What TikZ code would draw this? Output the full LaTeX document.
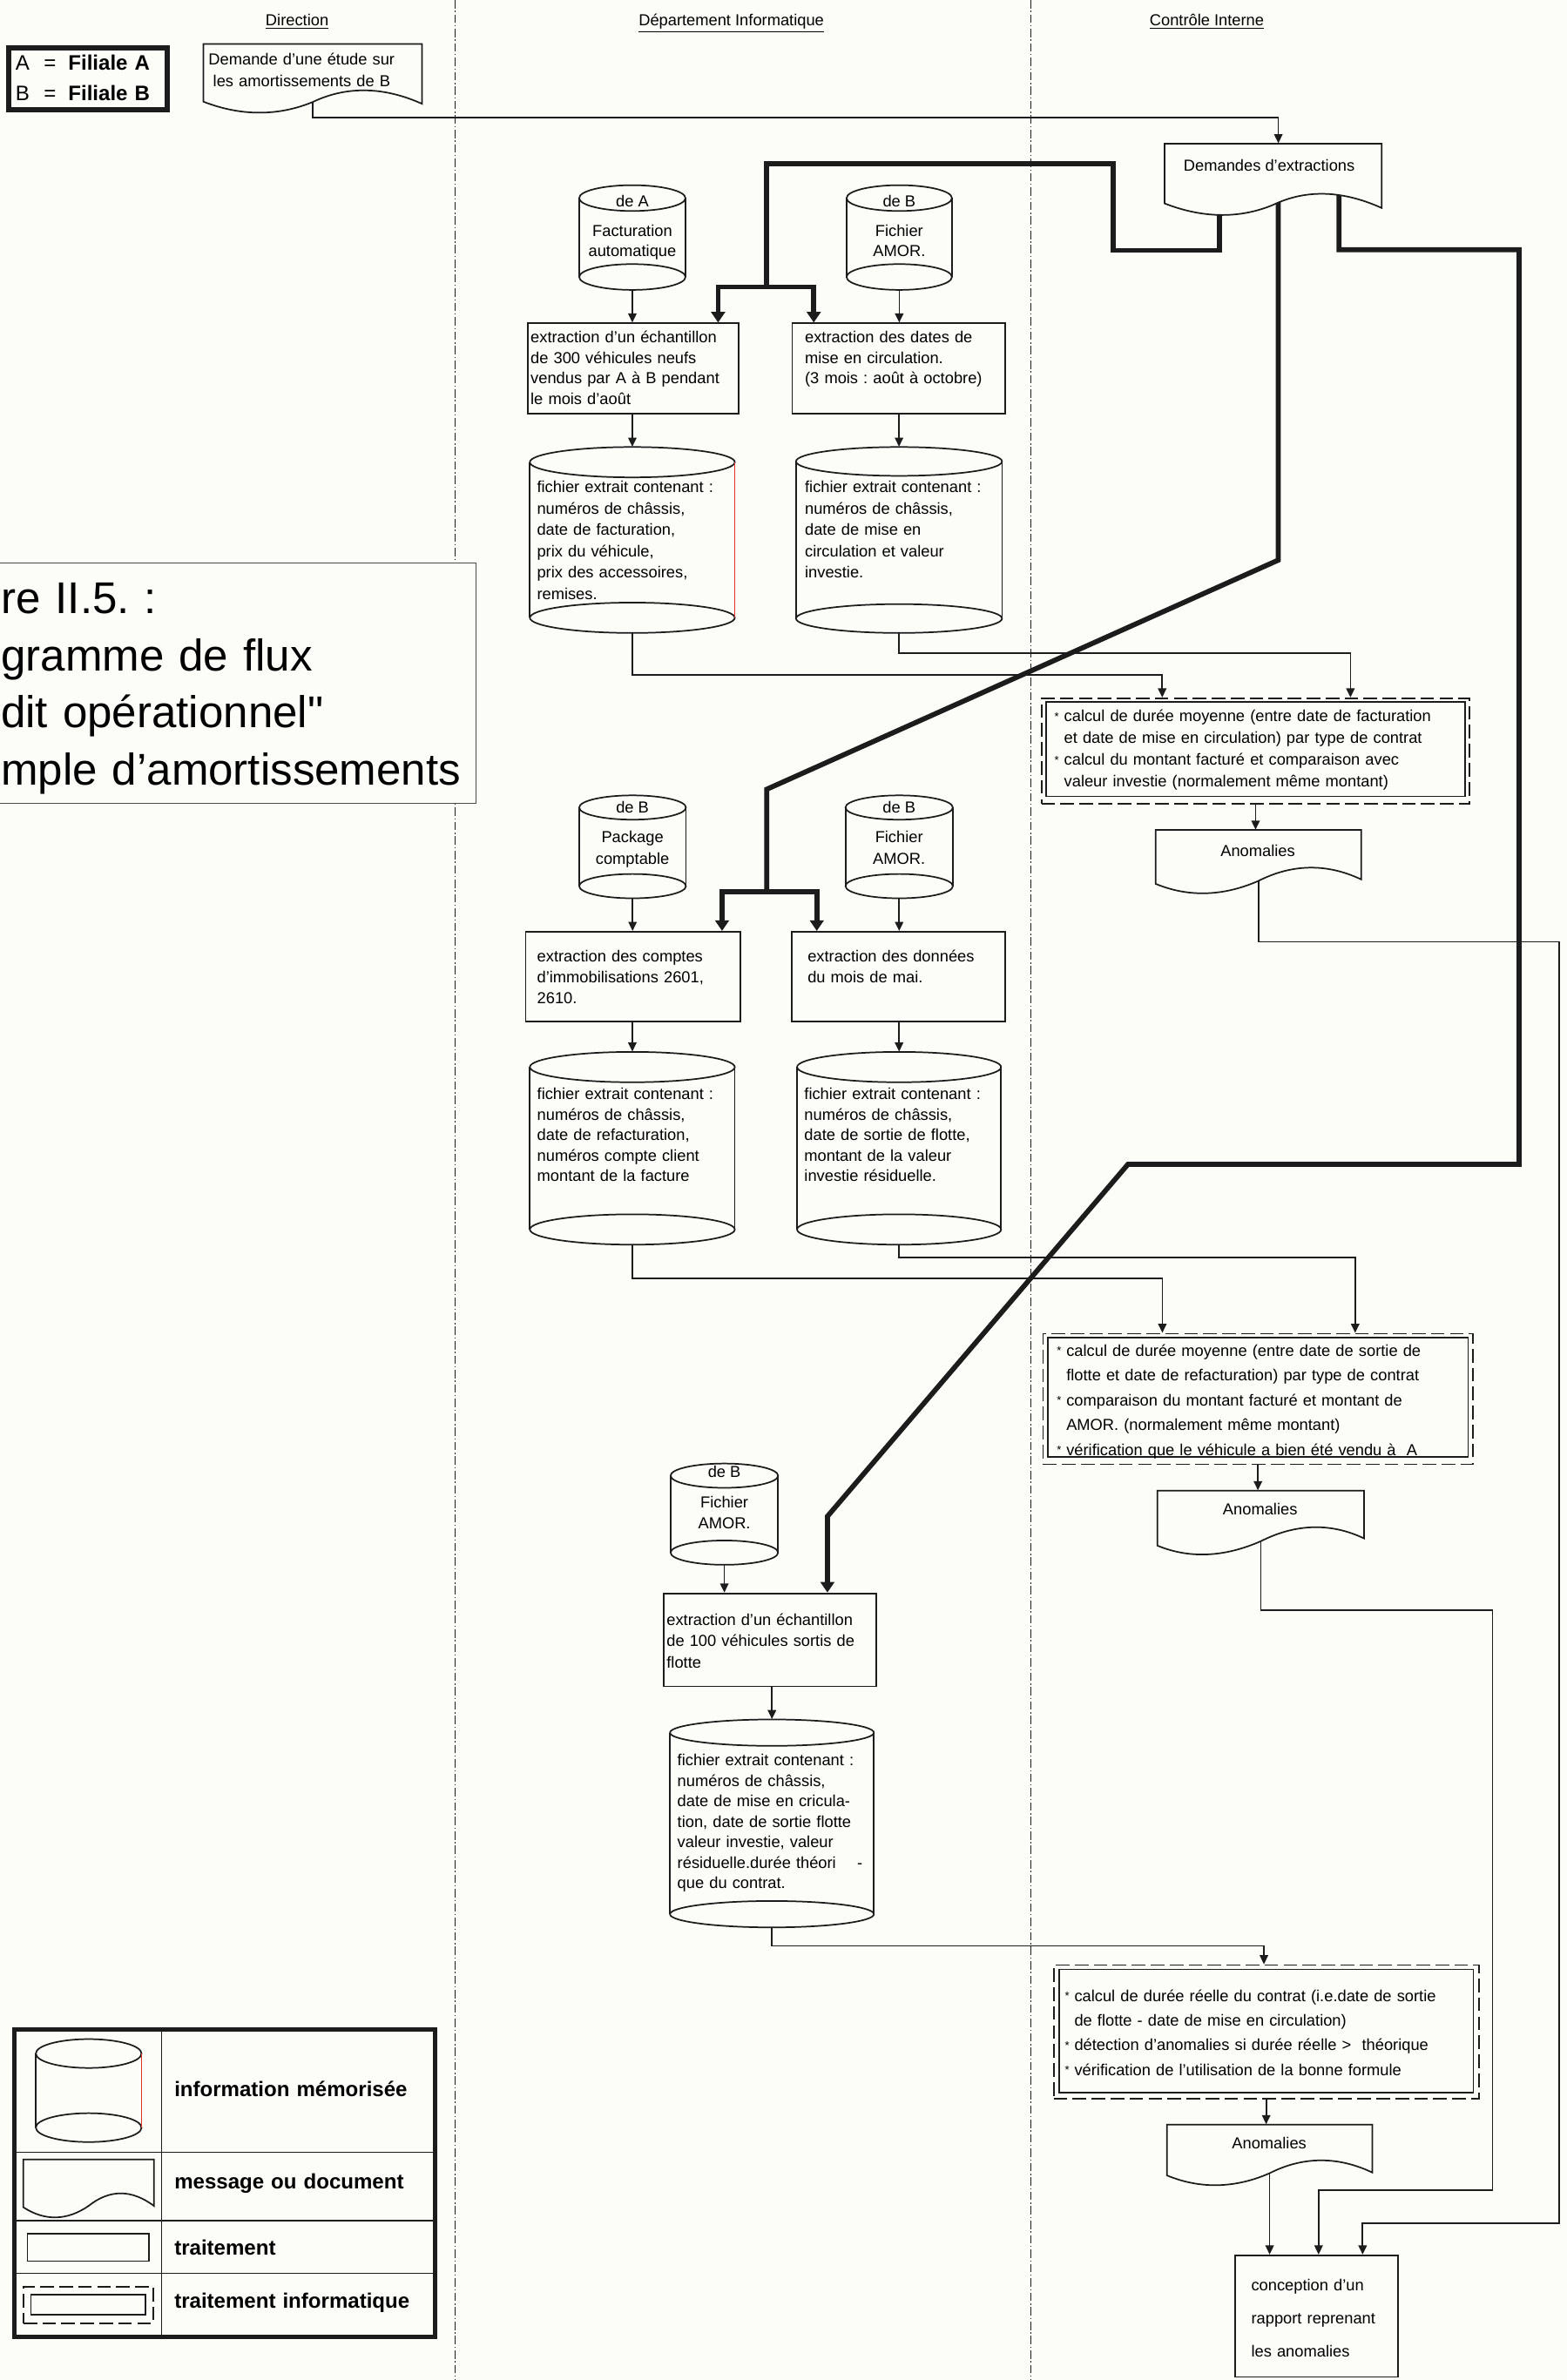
\documentclass[tikz,border=0pt]{standalone}
\usepackage{fontspec}
\setmainfont{Liberation Sans}
\newfontfamily\plainquote{Liberation Sans}[Ligatures=TeXOff]
\usetikzlibrary{arrows.meta,fit,calc}
\pgfdeclarelayer{back}
\pgfsetlayers{back,main}
\frenchspacing

\definecolor{paper}{RGB}{252,252,249}
\definecolor{ink}{RGB}{28,28,28}
\definecolor{redside}{RGB}{226,48,36}

\newcommand\fsz[2]{\fontsize{#1}{#2}\selectfont}
\newcommand\bul{\leavevmode\llap{\makebox[6.3pt][l]{\raisebox{0.8pt}{\fsz{7.5}{7.5}*}}}}

\tikzset{
  outline/.style={draw=ink, line width=1pt, fill=paper},
  conn/.style={draw=ink, line width=1pt, -{Triangle[length=6pt,width=5.5pt]}},
  heavy/.style={draw=ink, line width=3.3pt, line join=miter},
  heavytip/.style={-{Triangle[length=7pt,width=9pt]}},
  lane/.style={draw=ink, line width=0.6pt, dash pattern=on 5.5pt off 1.6pt on 0.8pt off 1.6pt},
  blk/.style={inner sep=0pt, anchor=base west, align=left, text width=#1},
  cen/.style={inner sep=0pt, anchor=base, align=center},
  cenw/.style={inner sep=0pt, anchor=base, align=center, text width=#1},
}

% plain processing box
\newcommand\procbox[5]{\node[fit={(#2,#3)(#4,#5)}, inner sep=0pt, outline] (#1) {};}

% document symbol: name, left, top, right, bottom of left side, bottom of right side
\newcommand\docshape[6]{%
  \node[fit={(#2,#3)(#4,#5)}, inner sep=0pt] (#1) {};
  \pgfmathsetmacro\dw{#4-#2}%
  \pgfmathsetmacro\yc{(#5+#6)/2-0.5}%
  \draw[outline] (#2,#5) -- (#2,#3) -- (#4,#3) -- (#4,#6)
    .. controls ({#2+0.83*\dw},{#6-11}) and ({#2+0.66*\dw},{\yc-11}) .. ({#2+0.5*\dw},\yc)
    .. controls ({#2+0.34*\dw},{\yc+9.5}) and ({#2+0.17*\dw},{#5+9.5}) .. (#2,#5) -- cycle;
  \coordinate (#1-out) at ({#2+0.5*\dw},\yc);
}

% stored data (cylinder): name, left, top, right, bottom, cap radius, right side colour
\newcommand\cylshape[7]{%
  \node[fit={(#2,#3)(#4,#5)}, inner sep=0pt] (#1) {};
  \pgfmathsetmacro\cx{(#2+#4)/2}%
  \pgfmathsetmacro\rx{(#4-#2)/2}%
  \draw[outline] (\cx,{#3+#6}) ellipse [x radius=\rx pt, y radius=#6pt];
  \draw[outline] (\cx,{#5-#6}) ellipse [x radius=\rx pt, y radius=#6pt];
  \draw[ink, line width=1pt] (#2,{#3+#6}) -- (#2,{#5-#6});
  \draw[#7, line width=1pt] (#4,{#3+#6}) -- (#4,{#5-#6});
}

% computer processing: dashed frame around a solid box
\newcommand\compbox[8]{%
  \node[fit={(#2,#3)(#4,#5)}, inner sep=0pt, outline, dash pattern=on 9pt off 3.5pt] (#1) {};
  \draw[ink, line width=1pt] ({#2+#6},{#3+#7}) rectangle ({#4-#6},{#5-#8});
}

\begin{document}
\begin{tikzpicture}[x=1pt,y=-1pt]
\useasboundingbox (0,0) rectangle (1032,1568);
\begin{pgfonlayer}{back}
  \fill[paper] (0,0) rectangle (1032,1568);
  \draw[lane] (300,0) -- (300,1568);
  \draw[lane] (679,0) -- (679,1568);
\end{pgfonlayer}

% lane headings
\node[cen, font=\fsz{10.5}{12}] (hdir) at (195.7,17) {\underline{Direction}};
\node[cen, font=\fsz{10.5}{12}] (hdep) at (481.7,17) {\underline{Département Informatique}};
\node[cen, font=\fsz{10.5}{12}] (hci) at (794.9,17) {\underline{Contrôle Interne}};

% key A / B
\node[fit={(5.8,31.8)(110.2,72.2)}, inner sep=0pt, draw=ink, line width=3.5pt] (keybox) {};
\node[blk=100pt, font=\fsz{13.8}{19.8}] (key) at (10,46.2)
  {A\hspace{9.5pt}=\hspace{8pt}\textbf{Filiale A}\\B\hspace{9.5pt}=\hspace{8pt}\textbf{Filiale B}};

% title panel
\node[fit={(-5,371)(313.3,529)}, inner sep=0pt, draw=ink!80, line width=0.6pt, fill=paper] (titlebox) {};
\node[blk=320pt, font=\fsz{29.3}{37.8}] (title) at (0.5,404)
  {re II.5. :\\gramme de flux\\dit opérationnel{\plainquote "}\\mple d’amortissements};

% ---------- shapes ----------
\docshape{dirdoc}{134}{29}{278}{67}{68.4}
\docshape{demandes}{767}{94.6}{910}{134}{137}

\cylshape{cylA}{381.5}{122}{451.5}{191}{8.5}{ink}
\cylshape{cylB}{557.6}{122}{627}{191}{8.5}{ink}
\procbox{ext1}{347.8}{213}{486.7}{272.5}
\procbox{ext2}{521.8}{213}{662}{272.5}
\cylshape{fic1}{349}{294.5}{484}{417}{10}{redside}
\cylshape{fic2}{524.3}{294.5}{660}{417}{9.5}{ink}
\compbox{calc1}{686}{460}{968}{529.6}{3}{2.5}{5}
\docshape{anom1}{761.2}{546.8}{896.6}{582.3}{579.4}

\cylshape{cylC}{381.5}{524}{451.8}{591.8}{8}{ink}
\cylshape{cylD}{556.9}{524}{627.6}{591.8}{8}{ink}
\procbox{ext3}{346.3}{613.8}{487.6}{673}
\procbox{ext4}{521.5}{613.8}{662}{673}
\cylshape{fic3}{349}{693}{484}{820}{10}{ink}
\cylshape{fic4}{525}{693}{659.4}{820}{10}{ink}
\compbox{calc2}{687.1}{878.6}{970}{964.7}{3}{2.5}{5}
\docshape{anom2}{762.4}{982}{898.4}{1018.3}{1013.5}

\cylshape{cylE}{441.7}{964.2}{512.5}{1030.9}{8}{ink}
\procbox{ext5}{437}{1049.7}{577}{1111}
\cylshape{fic5}{441.3}{1132.8}{575.6}{1269.8}{8.7}{ink}
\compbox{calc3}{694}{1294.6}{974}{1382.5}{3.5}{2.8}{4}
\docshape{anom3}{768.6}{1399.7}{903.9}{1433.2}{1431.3}
\procbox{rapport}{813.6}{1485.8}{921}{1566}

% ---------- texts ----------
\node[blk=140pt, font=\fsz{10.5}{14.4}] (dirdoct) at (137.2,42.5)
  {Demande d’une étude sur\\\hspace*{3pt}les amortissements de B};
\node[cen, font=\fsz{10.5}{12}] (demandest) at (836,113) {Demandes d’extractions};

\node[cen, font=\fsz{10.5}{12}] (cylAt1) at (416.5,136.5) {de A};
\node[cenw=68pt, font=\fsz{10.5}{13.4}] (cylAt2) at (416.5,155.8) {Facturation\\automatique};
\node[cen, font=\fsz{10.5}{12}] (cylBt1) at (592.3,136.5) {de B};
\node[cenw=68pt, font=\fsz{10.5}{13.4}] (cylBt2) at (592.3,155.8) {Fichier\\AMOR.};

\node[blk=136pt, font=\fsz{10.5}{13.6}] (ext1t) at (349.3,225.8)
  {extraction d’un échantillon\\de 300 véhicules neufs\\vendus par A à B pendant\\le mois d’août};
\node[blk=131pt, font=\fsz{10.5}{13.6}] (ext2t) at (530,225.8)
  {extraction des dates de\\mise en circulation.\\(3 mois : août à octobre)};

\node[blk=129pt, font=\fsz{10.5}{14.1}] (fic1t) at (353.5,324.5)
  {fichier extrait contenant :\\numéros de châssis,\\date de facturation,\\prix du véhicule,\\prix des accessoires,\\remises.};
\node[blk=129pt, font=\fsz{10.5}{14.1}] (fic2t) at (530,324.5)
  {fichier extrait contenant :\\numéros de châssis,\\date de mise en\\circulation et valeur\\investie.};

\node[blk=262pt, font=\fsz{10.5}{14.3}] (calc1t) at (700.7,475.5)
  {\bul calcul de durée moyenne (entre date de facturation\\et date de mise en circulation) par type de contrat\\\bul calcul du montant facturé et comparaison avec\\valeur investie (normalement même montant)};
\node[cen, font=\fsz{10.5}{12}] (anom1t) at (828.5,564.5) {Anomalies};

\node[cen, font=\fsz{10.5}{12}] (cylCt1) at (416.6,535.5) {de B};
\node[cenw=68pt, font=\fsz{10.5}{14.4}] (cylCt2) at (416.6,555) {Package\\comptable};
\node[cen, font=\fsz{10.5}{12}] (cylDt1) at (592.2,535.5) {de B};
\node[cenw=68pt, font=\fsz{10.5}{14.4}] (cylDt2) at (592.2,555) {Fichier\\AMOR.};

\node[blk=132pt, font=\fsz{10.5}{13.9}] (ext3t) at (353.6,633.5)
  {extraction des comptes\\d’immobilisations 2601,\\2610.};
\node[blk=128pt, font=\fsz{10.5}{13.9}] (ext4t) at (531.8,633.5)
  {extraction des données\\du mois de mai.};

\node[blk=129pt, font=\fsz{10.5}{13.5}] (fic3t) at (353.6,724.5)
  {fichier extrait contenant :\\numéros de châssis,\\date de refacturation,\\numéros compte client\\montant de la facture};
\node[blk=129pt, font=\fsz{10.5}{13.5}] (fic4t) at (529.6,724.5)
  {fichier extrait contenant :\\numéros de châssis,\\date de sortie de flotte,\\montant de la valeur\\investie résiduelle.};

\node[blk=265pt, font=\fsz{10.5}{16.3}] (calc2t) at (702.2,893.5)
  {\bul calcul de durée moyenne (entre date de sortie de\\flotte et date de refacturation) par type de contrat\\\bul comparaison du montant facturé et montant de\\AMOR. (normalement même montant)\\\bul vérification que le véhicule a bien été vendu à\ \ A};
\node[cen, font=\fsz{10.5}{12}] (anom2t) at (830,998.2) {Anomalies};

\node[cen, font=\fsz{10.5}{12}] (cylEt1) at (477.1,973.5) {de B};
\node[cenw=68pt, font=\fsz{10.5}{13.6}] (cylEt2) at (477.1,993.5) {Fichier\\AMOR.};

\node[blk=136pt, font=\fsz{10.5}{14}] (ext5t) at (438.9,1070.7)
  {extraction d’un échantillon\\de 100 véhicules sortis de\\flotte};
\node[blk=128pt, font=\fsz{10.5}{13.45}] (fic5t) at (446,1163.5)
  {fichier extrait contenant :\\numéros de châssis,\\date de mise en cricula-\\tion, date de sortie flotte\\valeur investie, valeur\\résiduelle.durée théori\hspace{14pt}-\\que du contrat.};

\node[blk=262pt, font=\fsz{10.5}{16.3}] (calc3t) at (707.5,1318.5)
  {\bul calcul de durée réelle du contrat (i.e.date de sortie\\de flotte - date de mise en circulation)\\\bul détection d’anomalies si durée réelle >\ \ théorique\\\bul vérification de l’utilisation de la bonne formule};
\node[cen, font=\fsz{10.5}{12}] (anom3t) at (836,1415.4) {Anomalies};

\node[blk=95pt, font=\fsz{10.5}{21.8}] (rapportt) at (824,1509)
  {conception d’un\\rapport reprenant\\les anomalies};

% ---------- bends of the long connectors ----------
\coordinate (h1a) at (803,165);
\coordinate (h1b) at (733,165);
\coordinate (h1c) at (733,108);
\coordinate (h1d) at (505,108);
\coordinate (h1e) at (505,189);
\coordinate (f1l) at (473,189);
\coordinate (f1r) at (536,189);
\coordinate (h2a) at (842,369);
\coordinate (h2b) at (505,520);
\coordinate (h2c) at (505,587.5);
\coordinate (f2l) at (475.6,587.5);
\coordinate (f2r) at (538,587.5);
\coordinate (h3a) at (882,164.5);
\coordinate (h3b) at (1000.6,164.5);
\coordinate (h3c) at (1000.6,767);
\coordinate (h3d) at (743,767);
\coordinate (h3e) at (545,999);
\coordinate (r1) at (1027,620.5);
\coordinate (r1b) at (1027,1464.7);
\coordinate (r2) at (983,1061);
\coordinate (r2b) at (983,1443);

% ---------- extraction requests (heavy lines) ----------
\begin{pgfonlayer}{back}
  \draw[heavy] (demandes.center -| h1a) -- (h1a) -- (h1b) -- (h1c) -- (h1d) -- (h1e);
  \draw[heavy, line cap=rect] (f1l) -- (f1r);
  \draw[heavy, heavytip] (f1l) -- (f1l |- ext1.north);
  \draw[heavy, heavytip] (f1r) -- (f1r |- ext2.north);
  \draw[heavy] (demandes.center -| h2a) -- (h2a) -- (h2b) -- (h2c);
  \draw[heavy, line cap=rect] (f2l) -- (f2r);
  \draw[heavy, heavytip] (f2l) -- (f2l |- ext3.north);
  \draw[heavy, heavytip] (f2r) -- (f2r |- ext4.north);
  \draw[heavy, heavytip] (demandes.center -| h3a) -- (h3a) -- (h3b) -- (h3c) -- (h3d) -- (h3e) -- (h3e |- ext5.north);
\end{pgfonlayer}

% ---------- flows ----------
\draw[conn] (dirdoc-out) -- ++(0,10.2) -| ([xshift=3.5pt]demandes.north);

\draw[conn] (cylA.south) -- (cylA.south |- ext1.north);
\draw[conn] (cylB.south) -- (cylB.south |- ext2.north);
\draw[conn] (fic1.north |- ext1.south) -- (fic1.north);
\draw[conn] (fic2.north |- ext2.south) -- (fic2.north);
\draw[conn] (fic1.south) -- ++(0,27.6) -| ([xshift=80pt]calc1.north west);
\draw[conn] (fic2.south) -- ++(0,13) -| ([xshift=204pt]calc1.north west);
\draw[conn] (calc1.south) -- (calc1.south |- anom1.north);
\draw[conn] (anom1-out) |- (r1) -- (r1b) -| ([xshift=84.4pt]rapport.north west);

\draw[conn] (cylC.south) -- (cylC.south |- ext3.north);
\draw[conn] (cylD.south) -- (cylD.south |- ext4.north);
\draw[conn] (fic3.north |- ext3.south) -- (fic3.north);
\draw[conn] (fic4.north |- ext4.south) -- (fic4.north);
\draw[conn] (fic3.south) -- ++(0,22) -| ([xshift=79pt]calc2.north west);
\draw[conn] (fic4.south) -- ++(0,8.4) -| ([xshift=206pt]calc2.north west);
\draw[conn] (calc2.south) -- (calc2.south |- anom2.north);
\draw[conn] (anom2-out) |- (r2) -- (r2b) -| ([xshift=55.4pt]rapport.north west);

\draw[conn] (cylE.south) -- (cylE.south |- ext5.north);
\draw[conn] (fic5.north |- ext5.south) -- (fic5.north);
\draw[conn] (fic5.south) -- ++(0,12) -| ([xshift=139pt]calc3.north west);
\draw[conn] (calc3.south) -- (calc3.south |- anom3.north);
\draw[conn] (anom3-out) -- (anom3-out |- rapport.north);

% ---------- legend ----------
\draw[ink, line width=0.8pt] (106.5,1337.2) -- (106.5,1539.8);
\draw[ink, line width=0.8pt] (9.3,1417.9) -- (286.4,1417.9);
\draw[ink, line width=0.8pt] (9.3,1462.9) -- (286.4,1462.9);
\draw[ink, line width=0.8pt] (9.3,1497.7) -- (286.4,1497.7);
\node[fit={(9.3,1337.2)(286.4,1539.8)}, inner sep=0pt, draw=ink, line width=3pt] (legend) {};
\cylshape{legcyl}{23.6}{1343.4}{93.2}{1411.2}{9.5}{redside}
\docshape{legdoc}{15.4}{1422.7}{101.4}{1454.2}{1453.3}
\procbox{legproc}{18}{1471.4}{98.3}{1489.6}
\compbox{legcomp}{15.4}{1506.4}{100.8}{1530.7}{5}{5.2}{5.7}
\node[blk=170pt, font=\fsz{13.8}{16}\bfseries] (leg1) at (114.7,1381) {information mémorisée};
\node[blk=170pt, font=\fsz{13.8}{16}\bfseries] (leg2) at (114.7,1441.8) {message ou document};
\node[blk=170pt, font=\fsz{13.8}{16}\bfseries] (leg3) at (114.7,1485.4) {traitement};
\node[blk=170pt, font=\fsz{13.8}{16}\bfseries] (leg4) at (114.7,1520.6) {traitement informatique};
\end{tikzpicture}
\end{document}
